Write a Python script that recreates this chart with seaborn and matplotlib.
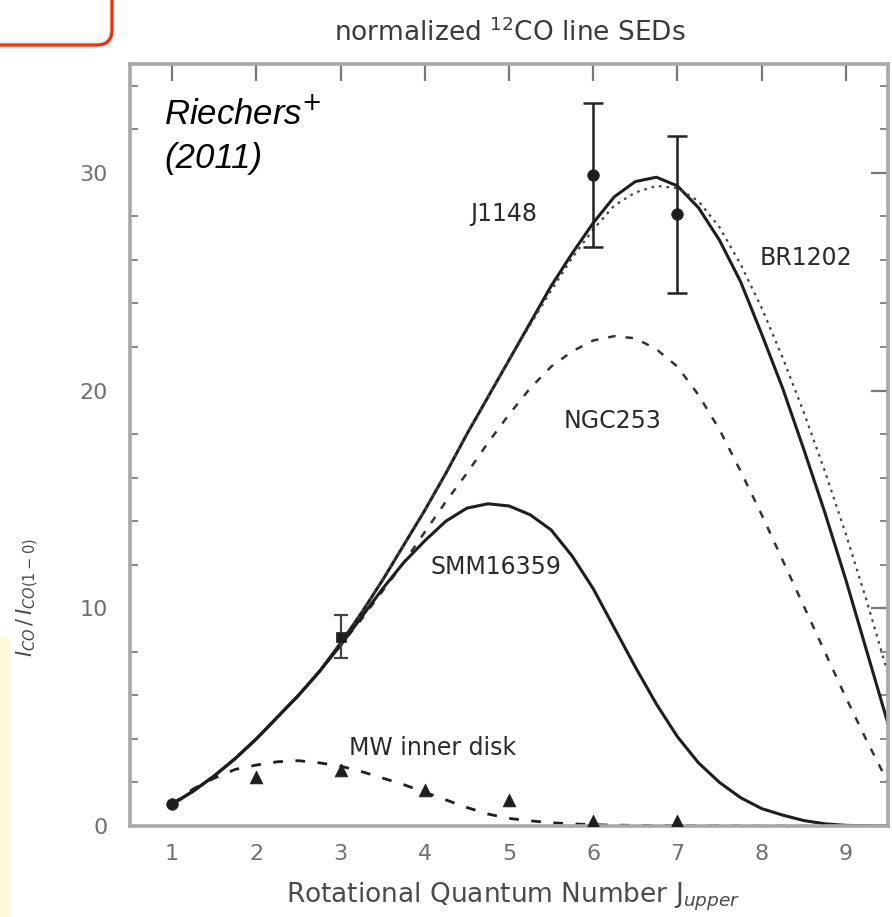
import matplotlib
matplotlib.use("Agg")
import matplotlib.pyplot as plt
from matplotlib.patches import FancyBboxPatch, Rectangle
import seaborn as sns

# ---------------- data ----------------
J_q = [1.0, 1.25, 1.5, 1.75, 2.0, 2.25, 2.5, 2.75, 3.0, 3.25, 3.5, 3.75,
       4.0, 4.25, 4.5, 4.75, 5.0, 5.25, 5.5, 5.75, 6.0, 6.25, 6.5, 6.75,
       7.0, 7.25, 7.5, 7.75, 8.0, 8.25, 8.5, 8.75, 9.0, 9.25, 9.5]

j1148_v = [1.0, 1.6, 2.3, 3.1, 4.0, 5.0, 6.0, 7.1, 8.4, 9.8, 11.3, 12.9,
           14.5, 16.2, 18.0, 19.7, 21.4, 23.1, 24.8, 26.3, 27.7, 28.9, 29.6, 29.8,
           29.4, 28.4, 26.9, 25.0, 22.6, 20.1, 17.3, 14.4, 11.3, 8.0, 4.7]

br1202_v = [1.0, 1.6, 2.3, 3.1, 4.0, 5.0, 6.0, 7.1, 8.4, 9.8, 11.3, 12.9,
            14.5, 16.2, 18.0, 19.7, 21.4, 23.0, 24.6, 26.1, 27.4, 28.5, 29.1, 29.4,
            29.3, 28.7, 27.5, 25.8, 23.8, 21.5, 19.0, 16.3, 13.4, 10.3, 7.0]

ngc253_v = [1.0, 1.6, 2.3, 3.1, 4.0, 5.0, 6.0, 7.1, 8.3, 9.5, 10.8, 12.1,
            13.5, 14.9, 16.2, 17.6, 18.9, 20.1, 21.1, 21.8, 22.3, 22.5, 22.4, 21.9,
            21.1, 19.8, 18.2, 16.3, 14.3, 12.2, 10.1, 8.0, 5.9, 3.9, 2.0]

smm_v = [1.0, 1.6, 2.3, 3.1, 4.0, 5.0, 6.0, 7.1, 8.3, 9.6, 10.9, 12.1,
         13.1, 14.0, 14.6, 14.8, 14.7, 14.3, 13.6, 12.4, 10.9, 9.1, 7.3, 5.6,
         4.1, 2.9, 2.0, 1.3, 0.8, 0.5, 0.25, 0.1, 0.03, 0.01, 0.0]

mw_v = [1.0, 1.7, 2.2, 2.6, 2.8, 2.95, 3.0, 2.9, 2.75, 2.5, 2.2, 1.9,
        1.55, 1.2, 0.85, 0.55, 0.35, 0.24, 0.15, 0.1, 0.06, 0.04, 0.03, 0.02,
        0.02, 0.01, 0.01, 0.0, 0.0, 0.0, 0.0, 0.0, 0.0, 0.0, 0.0]

obs_J = [1, 6, 7]
obs_v = [1.0, 29.9, 28.1]
err_J = [6, 7]
err_v = [29.9, 28.1]
err_size = [3.3, 3.6]

sq_J = [3]
sq_v = [8.7]
sq_err = [1.0]

mw_obs_J = [2, 3, 4, 5, 6, 7]
mw_obs_v = [2.25, 2.55, 1.65, 1.2, 0.25, 0.25]

x_ticks = [1, 2, 3, 4, 5, 6, 7, 8, 9]
y_ticks = [0, 10, 20, 30]

labels = ["J1148", "BR1202", "NGC253", "SMM16359", "MW inner disk"]
label_pos_x = [4.94, 8.53, 6.23, 4.85, 4.09]
label_pos_y = [28.1, 26.1, 18.6, 11.9, 3.6]

# ---------------- figure ----------------
sns.set_theme(style="white")
plt.rcParams["font.family"] = ["DejaVu Sans"]

fig = plt.figure(figsize=(8.92, 9.17), dpi=100)
ax = fig.add_axes([130 / 892, 1 - 826 / 917, 758 / 892, 762 / 917])

ink = "#1e1e1e"
lw = 2.2

sns.lineplot(x=J_q, y=j1148_v, ax=ax, color=ink, linewidth=lw, sort=False)
sns.lineplot(x=J_q, y=br1202_v, ax=ax, color="#444444", linewidth=1.6,
             linestyle=(0, (1.2, 2.2)), sort=False)
sns.lineplot(x=J_q, y=ngc253_v, ax=ax, color="#333333", linewidth=1.8,
             linestyle=(0, (3.0, 4.0)), sort=False)
sns.lineplot(x=J_q, y=smm_v, ax=ax, color=ink, linewidth=lw, sort=False)
sns.lineplot(x=J_q, y=mw_v, ax=ax, color=ink, linewidth=2.0,
             linestyle=(0, (3.5, 4.5)), sort=False)

# error bars
ax.errorbar(err_J, err_v, yerr=err_size, fmt="none", ecolor="#222222",
            elinewidth=1.8, capsize=7, capthick=1.8)
ax.errorbar(sq_J, sq_v, yerr=sq_err, fmt="none", ecolor="#444444",
            elinewidth=1.6, capsize=5, capthick=1.6)

sns.scatterplot(x=obs_J, y=obs_v, ax=ax, color=ink, s=70, marker="o",
                edgecolor=ink, linewidth=0.5, zorder=5)
sns.scatterplot(x=sq_J, y=sq_v, ax=ax, color=ink, s=55, marker="s",
                edgecolor=ink, linewidth=0.5, zorder=5)
sns.scatterplot(x=mw_obs_J, y=mw_obs_v, ax=ax, color=ink, s=85, marker="^",
                edgecolor=ink, linewidth=0.5, zorder=5)

for t, lx, ly in zip(labels, label_pos_x, label_pos_y):
    ax.text(lx, ly, t, ha="center", va="center", fontsize=17,
            color="#2a2a2a")

ax.text(0.045, 0.957, "Riechers$^{+}$\n(2011)", transform=ax.transAxes,
        ha="left", va="top", fontsize=25, style="italic", color="black",
        family=["Liberation Sans", "DejaVu Sans"], linespacing=1.4)

# axes styling
ax.set_xlim(0.5, 9.5)
ax.set_ylim(0, 35)
ax.set_xticks(x_ticks)
ax.set_yticks(y_ticks)
ax.set_yticks([v for v in range(0, 36, 2) if v % 10 != 0], minor=True)
ax.tick_params(axis="both", which="major", direction="in", length=12,
               width=1.6, color="#777777", labelcolor="#707070",
               labelsize=16, top=True, right=True)
ax.tick_params(axis="x", which="major", pad=13)
ax.tick_params(axis="y", which="major", pad=16)
ax.tick_params(axis="y", which="minor", direction="in", length=6,
               width=1.4, color="#888888", left=True, right=True)
for sp in ax.spines.values():
    sp.set_color("#a8a8a8")
    sp.set_linewidth(2.6)

ax.set_xlabel("Rotational Quantum Number J$_{upper}$", fontsize=19,
              color="#4a4a4a")
ax.xaxis.label.set_va("center")
ax.xaxis.set_label_coords(0.505, -0.093)
ax.set_ylabel(r"$I_{CO}\,/\,I_{CO(1-0)}$", fontsize=15, color="#4a4a4a")
ax.yaxis.set_label_coords(-0.118, 0.30)

fig.text(510 / 892, 1 - 33 / 917, "normalized $^{12}$CO line SEDs",
         ha="center", va="center", fontsize=19, color="#3a3a3a")

# slide decoration: red rounded box and pale yellow glow
fig.patches.append(FancyBboxPatch((-0.05, 1 - 45 / 917), 112 / 892 + 0.05, 0.2,
                                  boxstyle="round,pad=0,rounding_size=0.017",
                                  transform=fig.transFigure, fill=False,
                                  edgecolor="#ff2a00", linewidth=2.4,
                                  clip_on=False))
fig.patches.append(Rectangle((0, 0), 10 / 892, 280 / 917, transform=fig.transFigure,
                             facecolor="#fff9dc", edgecolor="none", zorder=-1))

fig.savefig("out.png", dpi=100)
